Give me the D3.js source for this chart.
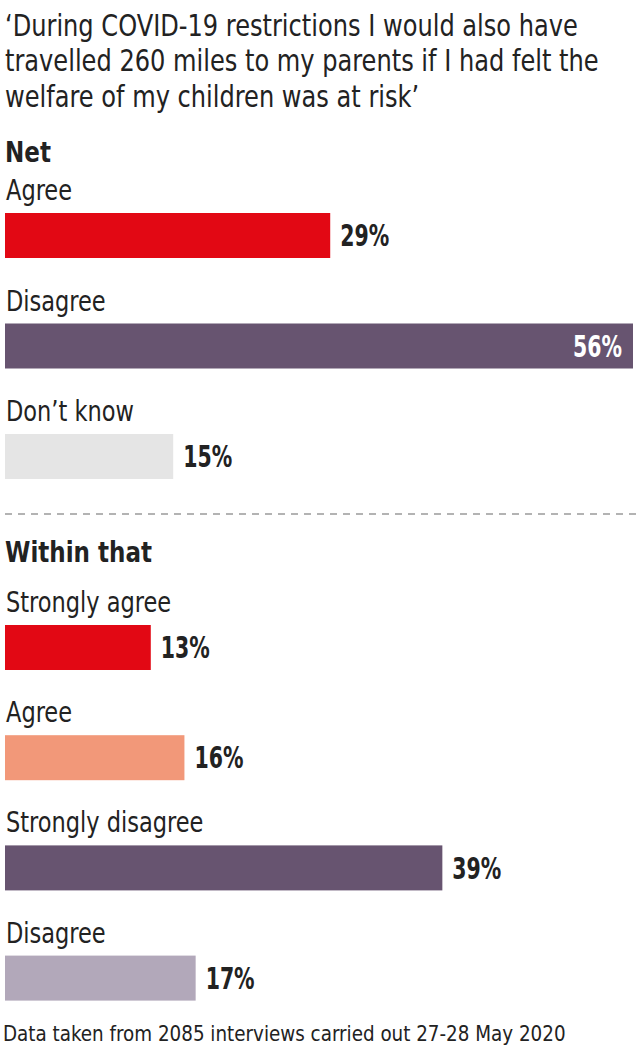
<!DOCTYPE html>
<html>
<head>
<meta charset="utf-8">
<script src="https://cdn.jsdelivr.net/npm/d3@7"></script>
<style>
  html, body { margin: 0; padding: 0; background: #fff; }
  svg text { font-family: "Liberation Sans Narrow", "DejaVu Sans Condensed", "Roboto Condensed", sans-serif; fill: #222; }
</style>
</head>
<body>
<svg id="chart" width="640" height="1055"></svg>
<script>
const titleLines = [
  "‘During COVID-19 restrictions I would also have",
  "travelled 260 miles to my parents if I had felt the",
  "welfare of my children was at risk’"
];
const netHeading = "Net";
const netCategories = ["Agree", "Disagree", "Don’t know"];
const netValues = [29, 56, 15];
const netColors = ["#e20814", "#675470", "#e5e5e5"];

const withinHeading = "Within that";
const withinCategories = ["Strongly agree", "Agree", "Strongly disagree", "Disagree"];
const withinValues = [13, 16, 39, 17];
const withinColors = ["#e20814", "#f29879", "#675470", "#b2a8ba"];

const footnote = "Data taken from 2085 interviews carried out 27-28 May 2020";

const svg = d3.select("#chart");
const W = 640;

// horizontal condensing (scaleX) to mimic the narrow original typeface
function condense(sel, k) {
  sel.each(function() {
    const s = d3.select(this);
    const x0 = +s.attr("x");
    s.attr("x", 0).attr("transform", `translate(${x0},0) scale(${k},1)`);
  });
}

const x = d3.scaleLinear()
  .domain([0, d3.max(netValues.concat(withinValues))])
  .range([5, 633]);

// Title
const title = svg.append("g").selectAll("text").data(titleLines).join("text")
  .attr("x", 5)
  .attr("y", (d, i) => 36 + i * 35.5)
  .attr("font-size", 30)
  .text(d => d);

function section(headingText, headingY, cats, vals, cols, rowTop, step) {
  const g = svg.append("g");
  g.append("text").attr("class", "bold")
    .attr("x", 5).attr("y", headingY)
    .attr("font-size", 29).attr("font-weight", "bold")
    .text(headingText);

  const y = d3.scaleBand()
    .domain(cats)
    .range([rowTop, rowTop + step * cats.length])
    .paddingInner(0).paddingOuter(0);

  const rows = g.selectAll("g.row").data(cats).join("g").attr("class", "row")
    .attr("transform", d => `translate(0,${y(d)})`);

  rows.append("text").attr("class", "cat")
    .attr("x", 6).attr("y", 0)
    .attr("font-size", 28)
    .text(d => d);

  rows.append("rect")
    .attr("x", x(0))
    .attr("y", 13)
    .attr("height", 45)
    .attr("width", (d, i) => x(vals[i]) - x(0))
    .attr("fill", (d, i) => cols[i]);

  rows.append("text").attr("class", "val")
    .attr("font-size", 30).attr("font-weight", "bold")
    .attr("y", 13 + 45 / 2)
    .attr("dy", "0.36em")
    .text((d, i) => vals[i] + "%")
    .each(function(d, i) {
      const inside = x(vals[i]) + 70 > W;
      d3.select(this)
        .attr("x", inside ? x(vals[i]) - 11 : x(vals[i]) + 10)
        .attr("text-anchor", inside ? "end" : "start")
        .style("fill", inside ? "#fff" : "#222");
    });
  return g;
}

section(netHeading, 162, netCategories, netValues, netColors, 200, 110.5);

svg.append("line")
  .attr("x1", 5).attr("x2", W)
  .attr("y1", 514).attr("y2", 514)
  .attr("stroke", "#b3b3b3").attr("stroke-width", 2)
  .attr("stroke-dasharray", "7,6");

section(withinHeading, 562, withinCategories, withinValues, withinColors, 612, 110.2);

svg.append("text").attr("class", "foot")
  .attr("x", 3).attr("y", 1041)
  .attr("font-size", 22)
  .text(footnote);

// fit widths to the narrow original typeface
const kReg = 573 / title.nodes()[0].getComputedTextLength();
const kFoot = 563 / svg.select("text.foot").node().getComputedTextLength();
const bw = svg.selectAll("text.bold").filter(function(){ return d3.select(this).text() === withinHeading; }).node().getComputedTextLength();
const kBold = 147 / bw;
const kVal = 49 / svg.select("text.val").node().getComputedTextLength();
condense(title, kReg);
condense(svg.selectAll("text.cat"), kReg);
condense(svg.selectAll("text.foot"), kFoot);
condense(svg.selectAll("text.bold"), kBold);
condense(svg.selectAll("text.val"), kVal);
</script>
</body>
</html>
